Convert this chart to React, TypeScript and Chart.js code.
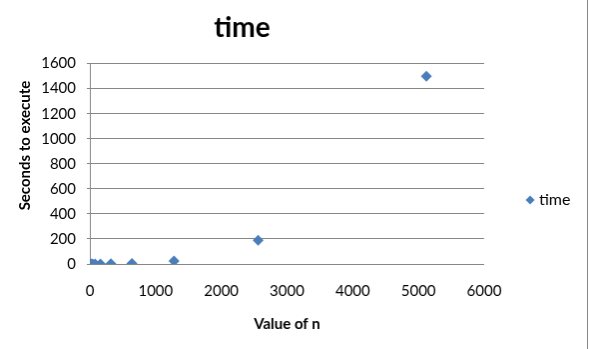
import React, { useEffect, useRef } from 'react';
import { Chart, registerables } from 'chart.js';

Chart.register(...registerables);

const chartTitle = 'time';
const seriesName = 'time';
const xAxisTitle = 'Value of n';
const yAxisTitle = 'Seconds to execute';
const nValues = [10, 20, 40, 80, 160, 320, 640, 1280, 2560, 5120];
const seconds = [0.01, 0.02, 0.05, 0.1, 0.4, 1, 3, 23, 190, 1500];
const xRange = [0, 6000];
const xStep = 1000;
const yRange = [0, 1600];
const yStep = 200;

const BLUE = '#4A7EBB';
const GRID = '#878787';
const FONT = 'Lato, "Open Sans", sans-serif';

const customLegend = {
  id: 'customLegend',
  afterDraw(chart: any) {
    const ctx = chart.ctx;
    const ds = chart.data.datasets[0];
    const cx = 531;
    const cy = 200;
    const r = 4.5;
    ctx.save();
    ctx.fillStyle = BLUE;
    ctx.beginPath();
    ctx.moveTo(cx, cy - r);
    ctx.lineTo(cx + r, cy);
    ctx.lineTo(cx, cy + r);
    ctx.lineTo(cx - r, cy);
    ctx.closePath();
    ctx.fill();
    ctx.fillStyle = '#000';
    ctx.font = `16px ${FONT}`;
    ctx.textBaseline = 'middle';
    ctx.textAlign = 'left';
    ctx.fillText(ds.label, 540, cy);
    ctx.restore();
  },
};

export default function App() {
  const ref = useRef<HTMLCanvasElement | null>(null);
  useEffect(() => {
    if (!ref.current) return;
    const chart = new Chart(ref.current, {
      type: 'scatter',
      data: {
        datasets: [
          {
            label: seriesName,
            data: nValues.map((n, i) => ({ x: n, y: seconds[i] })),
            pointStyle: 'rectRot',
            pointRadius: 5.5,
            pointHoverRadius: 5.5,
            backgroundColor: BLUE,
            borderColor: BLUE,
            borderWidth: 0,
          },
        ],
      },
      options: {
        responsive: false,
        animation: false,
        layout: { padding: { left: 0, right: 103, top: 0, bottom: 0 } },
        plugins: {
          legend: { display: false },
          tooltip: { enabled: false },
          title: {
            display: true,
            text: chartTitle,
            color: '#000',
            font: { family: FONT, size: 28, weight: 'bold' },
            padding: { top: 11, bottom: 19 },
          },
        },
        scales: {
          x: {
            type: 'linear',
            min: xRange[0],
            max: xRange[1],
            afterFit: (s: any) => {
              s.height = 85;
            },
            ticks: {
              stepSize: xStep,
              color: '#000',
              font: { family: FONT, size: 15 },
              padding: 18,
              maxRotation: 0,
              callback: (v: any) => String(v),
            },
            grid: { display: false, drawTicks: false, tickLength: 0 },
            border: { display: false },
            title: {
              display: true,
              text: xAxisTitle,
              color: '#000',
              font: { family: FONT, size: 15, weight: 'bold' },
              padding: { top: 0, bottom: 16 },
            },
          },
          y: {
            type: 'linear',
            min: yRange[0],
            max: yRange[1],
            afterFit: (s: any) => {
              s.width = 90;
            },
            ticks: {
              stepSize: yStep,
              color: '#000',
              font: { family: FONT, size: 15 },
              padding: 11,
              callback: (v: any) => String(v),
            },
            grid: { color: GRID, lineWidth: 1, drawTicks: true, tickLength: 3 },
            border: { display: true, color: GRID, width: 1 },
            title: {
              display: true,
              text: '          ' + yAxisTitle,
              color: '#000',
              font: { family: FONT, size: 15, weight: 'bold' },
              padding: { top: 16, bottom: 0 },
            },
          },
        },
      },
      plugins: [customLegend],
    });
    return () => chart.destroy();
  }, []);
  return (
    <div
      style={{
        position: 'absolute',
        left: 0,
        top: 0,
        width: 589,
        height: 349,
        background: '#fff',
      }}
    >
      <canvas
        ref={ref}
        width={588}
        height={349}
        style={{ display: 'block', borderRight: '1px solid #888' }}
      />
    </div>
  );
}
